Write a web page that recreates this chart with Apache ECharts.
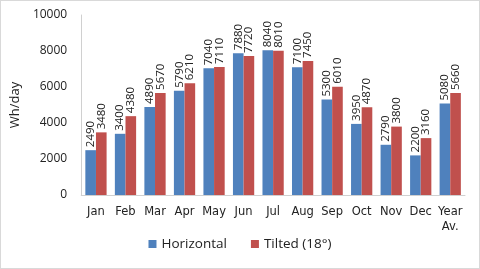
<!DOCTYPE html>
<html><head><meta charset="utf-8">
<script src="https://cdn.jsdelivr.net/npm/echarts@6/dist/echarts.min.js"></script>
<style>html,body{margin:0;padding:0;background:#fff}#c{width:480px;height:269px;box-sizing:border-box;border:1px solid #d9d9d9}</style>
</head><body><div id="c"></div>
<script>
var categories = ['Jan','Feb','Mar','Apr','May','Jun','Jul','Aug','Sep','Oct','Nov','Dec','Year\nAv.'];
var horizontal = [2490,3400,4890,5790,7040,7880,8040,7100,5300,3950,2790,2200,5080];
var tilted = [3480,4380,5670,6210,7110,7720,8010,7450,6010,4870,3800,3160,5660];
var yTicks = {min:0, max:10000, interval:2000};
var font = 'Open Sans';
var chart = echarts.init(document.getElementById('c'), null, {renderer:'canvas'});
var lbl = {show:true, position:'top', rotate:90, align:'left', verticalAlign:'middle', distance:3, color:'#222', fontSize:11.5, fontFamily:font};
chart.setOption({
  animation:false,
  grid:{left:65, right:14, top:14, bottom:73},
  legend:{bottom:12, left:'center', itemWidth:8, itemHeight:8, itemGap:24, icon:'rect',
    textStyle:{fontSize:13.5, color:'#222', fontFamily:font}, data:['Horizontal','Tilted (18°)']},
  xAxis:{type:'category', data:categories,
    axisLine:{lineStyle:{color:'#d0d0d0'}}, axisTick:{show:false},
    axisLabel:{color:'#222', fontSize:11.5, fontFamily:'DejaVu Sans', margin:10, lineHeight:15, interval:0}},
  yAxis:{type:'value', min:yTicks.min, max:yTicks.max, interval:yTicks.interval,
    name:'Wh/day', nameLocation:'middle', nameGap:46, nameRotate:90,
    nameTextStyle:{fontSize:13, color:'#222', fontFamily:font},
    axisLine:{show:true, lineStyle:{color:'#d0d0d0'}}, axisTick:{show:false},
    splitLine:{show:false},
    axisLabel:{color:'#222', fontSize:12, fontFamily:font, margin:14, formatter:function(v){return String(v);}}},
  series:[
    {name:'Horizontal', type:'bar', data:horizontal, barGap:'0%', barCategoryGap:'28%', itemStyle:{color:'#4F81BD'}, label:lbl},
    {name:'Tilted (18°)', type:'bar', data:tilted, itemStyle:{color:'#C0504D'}, label:lbl}
  ]
});
</script></body></html>
